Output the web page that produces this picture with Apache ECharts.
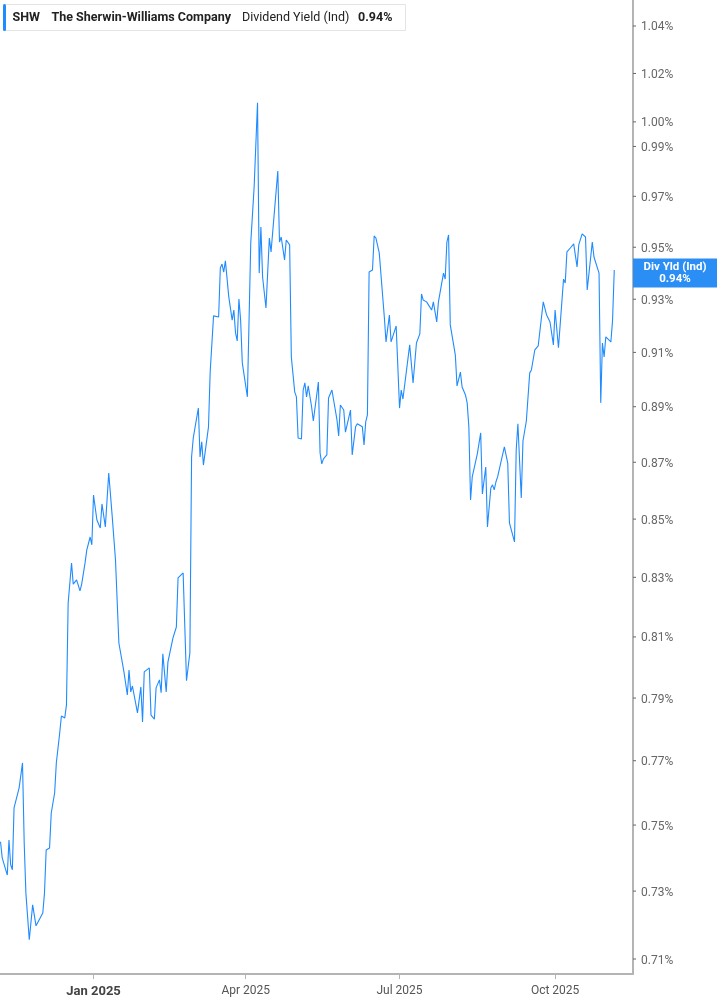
<!DOCTYPE html>
<html><head><meta charset="utf-8">
<script src="https://cdn.jsdelivr.net/npm/echarts@6/dist/echarts.min.js"></script>
<style>html,body{margin:0;padding:0;background:#fff}#c{width:717px;height:1005px}</style>
</head><body><div id="c"></div><script>
const ticker = 'SHW';
const company = 'The Sherwin-Williams Company';
const metric = 'Dividend Yield (Ind)';
const tagName = 'Div Yld (Ind)';

const dates = [
'2024-11-07','2024-11-08','2024-11-11','2024-11-12','2024-11-13','2024-11-14','2024-11-15','2024-11-18','2024-11-20','2024-11-21',
'2024-11-22','2024-11-24','2024-11-26','2024-11-28','2024-12-02','2024-12-03','2024-12-04','2024-12-06','2024-12-07','2024-12-09',
'2024-12-10','2024-12-11','2024-12-12','2024-12-13','2024-12-15','2024-12-16','2024-12-17','2024-12-19','2024-12-20','2024-12-22',
'2024-12-24','2024-12-25','2024-12-27','2024-12-28','2024-12-30','2024-12-31','2025-01-01','2025-01-03','2025-01-05','2025-01-06',
'2025-01-08','2025-01-10','2025-01-12','2025-01-14','2025-01-16','2025-01-17','2025-01-19','2025-01-21','2025-01-22','2025-01-23',
'2025-01-24','2025-01-27','2025-01-28','2025-01-29','2025-01-30','2025-01-31','2025-02-03','2025-02-04','2025-02-06','2025-02-07',
'2025-02-09','2025-02-10','2025-02-11','2025-02-13','2025-02-14','2025-02-17','2025-02-19','2025-02-20','2025-02-23','2025-02-25',
'2025-02-27','2025-02-28','2025-03-01','2025-03-04','2025-03-05','2025-03-06','2025-03-07','2025-03-10','2025-03-11','2025-03-13',
'2025-03-14','2025-03-16','2025-03-17','2025-03-18','2025-03-19','2025-03-20','2025-03-22','2025-03-24','2025-03-25','2025-03-26',
'2025-03-27','2025-03-28','2025-03-29','2025-03-30','2025-04-02','2025-04-04','2025-04-06','2025-04-08','2025-04-09','2025-04-10',
'2025-04-11','2025-04-13','2025-04-15','2025-04-16','2025-04-20','2025-04-21','2025-04-22','2025-04-24','2025-04-25','2025-04-27',
'2025-04-28','2025-04-30','2025-05-01','2025-05-02','2025-05-04','2025-05-05','2025-05-06','2025-05-07','2025-05-08','2025-05-10',
'2025-05-11','2025-05-14','2025-05-15','2025-05-16','2025-05-17','2025-05-19','2025-05-20','2025-05-22','2025-05-25','2025-05-26',
'2025-05-27','2025-05-29','2025-05-30','2025-06-02','2025-06-03','2025-06-05','2025-06-06','2025-06-09','2025-06-10','2025-06-11',
'2025-06-12','2025-06-13','2025-06-15','2025-06-16','2025-06-17','2025-06-19','2025-06-22','2025-06-23','2025-06-25','2025-06-26',
'2025-06-29','2025-07-01','2025-07-02','2025-07-03','2025-07-07','2025-07-08','2025-07-09','2025-07-10','2025-07-11','2025-07-13',
'2025-07-14','2025-07-15','2025-07-17','2025-07-20','2025-07-21','2025-07-23','2025-07-24','2025-07-25','2025-07-27','2025-07-28',
'2025-07-29','2025-07-30','2025-07-31','2025-08-02','2025-08-03','2025-08-04','2025-08-06','2025-08-07','2025-08-09','2025-08-10',
'2025-08-11','2025-08-12','2025-08-13','2025-08-16','2025-08-18','2025-08-19','2025-08-20','2025-08-21','2025-08-22','2025-08-24',
'2025-08-25','2025-08-26','2025-08-27','2025-08-28','2025-09-01','2025-09-03','2025-09-04','2025-09-07','2025-09-08','2025-09-09',
'2025-09-11','2025-09-12','2025-09-14','2025-09-16','2025-09-17','2025-09-19','2025-09-21','2025-09-24','2025-09-26','2025-09-28',
'2025-09-30','2025-10-01','2025-10-03','2025-10-06','2025-10-07','2025-10-08','2025-10-10','2025-10-12','2025-10-14','2025-10-15',
'2025-10-17','2025-10-19','2025-10-20','2025-10-23','2025-10-24','2025-10-27','2025-10-28','2025-10-29','2025-10-30','2025-10-31',
'2025-11-03','2025-11-04','2025-11-05'
];

const yields = [
0.7449,0.7400,0.7348,0.7454,0.7379,0.7364,0.7553,0.7615,0.7693,0.7445,
0.7294,0.7156,0.7259,0.7197,0.7235,0.7294,0.7424,0.7430,0.7537,0.7599,
0.7693,0.7690,0.7788,0.7842,0.7836,0.7878,0.8213,0.8349,0.8277,0.8291,
0.8254,0.8277,0.8349,0.8393,0.8438,0.8411,0.8584,0.8497,0.8469,0.8553,
0.8473,0.8662,0.8514,0.8359,0.8080,0.8077,0.7985,0.7910,0.7991,0.7920,
0.7939,0.7852,0.7852,0.7936,0.7823,0.7985,0.7998,0.7845,0.7832,0.7933,
0.7959,0.7917,0.8044,0.7920,0.8017,0.8097,0.8133,0.8298,0.8315,0.7956,
0.8048,0.8719,0.8787,0.8895,0.8719,0.8773,0.8690,0.8827,0.9027,0.9237,
0.9244,0.9233,0.9420,0.9435,0.9404,0.9447,0.9309,0.9221,0.9259,0.9173,
0.9143,0.9301,0.9221,0.9061,0.8936,0.9517,0.9737,1.0078,0.9400,0.9579,
0.9385,0.9267,0.9536,0.9482,0.9801,0.9520,0.9540,0.9451,0.9528,0.9509,
0.9083,0.8954,0.8936,0.8787,0.8783,0.8961,0.8987,0.8936,0.8976,0.8899,
0.8848,0.8990,0.8733,0.8694,0.8712,0.8726,0.8932,0.8961,0.8852,0.8794,
0.8906,0.8888,0.8808,0.8888,0.8726,0.8827,0.8838,0.8827,0.8762,0.8845,
0.8870,0.9404,0.9412,0.9544,0.9536,0.9478,0.9233,0.9139,0.9240,0.9139,
0.9199,0.8895,0.8961,0.8928,0.9128,0.9131,0.8987,0.8983,0.9135,0.9169,
0.9320,0.9297,0.9290,0.9259,0.9290,0.9214,0.9290,0.9293,0.9400,0.9377,
0.9520,0.9548,0.9203,0.9128,0.9090,0.8976,0.9027,0.8972,0.8943,0.8914,
0.8827,0.8567,0.8648,0.8730,0.8805,0.8588,0.8595,0.8683,0.8473,0.8609,
0.8620,0.8602,0.8630,0.8648,0.8755,0.8697,0.8487,0.8421,0.8744,0.8838,
0.8574,0.8776,0.8848,0.9024,0.9035,0.9109,0.9124,0.9290,0.9240,0.9214,
0.9128,0.9259,0.9117,0.9377,0.9362,0.9482,0.9497,0.9513,0.9424,0.9509,
0.9552,0.9540,0.9335,0.9520,0.9462,0.9400,0.8914,0.9135,0.9083,0.9158,
0.9139,0.9221,0.9412
];

const yTickValues = [0.71,0.73,0.75,0.77,0.79,0.81,0.83,0.85,0.87,0.89,0.91,0.93,0.95,0.97,0.99,1.00,1.02,1.04];
const xTickDates = ['2025-01-01','2025-04-01','2025-07-01','2025-10-01'];
const xRange = ['2024-11-06T16:30','2025-11-16T02:00'];
const monthNames = ['Jan','Feb','Mar','Apr','May','Jun','Jul','Aug','Sep','Oct','Nov','Dec'];

const LINE_BLUE = '#1f8bff';
const TAG_BLUE = '#2a8ef5';
const AXIS_GRAY = '#b4b4b4';
const FONT = 'Roboto, "Noto Sans", sans-serif';

function toMs(s) {
  const m = s.match(/^(\d{4})-(\d{2})-(\d{2})(?:T(\d{2}):(\d{2}))?$/);
  return new Date(+m[1], +m[2] - 1, +m[3], m[4] ? +m[4] : 0, m[5] ? +m[5] : 0).getTime();
}

const lastValue = yields[yields.length - 1];
const seriesData = dates.map((d, i) => [toMs(d), yields[i]]);
const xTickMs = xTickDates.map(toMs);

const chart = echarts.init(document.getElementById('c'), null, {renderer: 'canvas'});

const tickMarks = yTickValues.map(v => ({
  yAxis: v,
  label: {formatter: '{t|}{v|' + v.toFixed(2) + '%}'}
}));

const tagItem = {
  yAxis: lastValue,
  label: {
    position: 'end',
    distance: 0,
    formatter: '{a|' + tagName + '}\n{a|' + lastValue.toFixed(2) + '%}',
    backgroundColor: TAG_BLUE,
    padding: [2, 0, 2, 0],
    rich: {
      a: {width: 84, align: 'center', color: '#fff', fontWeight: 'bold', fontSize: 11.5, lineHeight: 12.5, fontFamily: FONT}
    }
  }
};

const option = {
  backgroundColor: '#fff',
  animation: false,
  textStyle: {fontFamily: FONT},
  grid: {left: 0, right: 84, top: 0, bottom: 31, containLabel: false},
  xAxis: {
    type: 'value',
    min: toMs(xRange[0]),
    max: toMs(xRange[1]),
    axisLine: {show: true, onZero: false, lineStyle: {color: AXIS_GRAY, width: 2}},
    axisTick: {show: true, customValues: xTickMs, length: 5, lineStyle: {color: AXIS_GRAY, width: 1}},
    splitLine: {show: false},
    axisLabel: {
      customValues: xTickMs,
      margin: 11,
      color: '#555',
      fontSize: 12,
      fontFamily: FONT,
      formatter: function (val) {
        const d = new Date(val);
        const s = monthNames[d.getMonth()] + ' ' + d.getFullYear();
        return d.getMonth() === 0 ? '{b|' + s + '}' : s;
      },
      rich: {b: {fontWeight: 'bold', fontSize: 13, color: '#444', fontFamily: FONT}}
    }
  },
  yAxis: {
    type: 'log',
    logBase: 10,
    min: 0.70566,
    max: 1.05112,
    position: 'right',
    axisLine: {show: true, lineStyle: {color: AXIS_GRAY, width: 2}},
    axisTick: {show: false},
    minorTick: {show: false},
    axisLabel: {show: false},
    splitLine: {show: false}
  },
  graphic: [
    {type: 'rect', shape: {x: 3.5, y: 4.5, width: 402, height: 26}, style: {fill: '#fff', stroke: '#e4e4e4', lineWidth: 1}, z: 100},
    {type: 'rect', shape: {x: 3, y: 4, width: 3, height: 27, r: 1.5}, style: {fill: LINE_BLUE}, z: 101},
    {type: 'text', x: 12.5, y: 17.5, style: {text: ticker, fill: '#222', font: 'bold 12.5px ' + FONT, textVerticalAlign: 'middle'}, z: 101},
    {type: 'text', x: 51.5, y: 17.5, style: {text: company, fill: '#222', font: 'bold 12.5px ' + FONT, textVerticalAlign: 'middle'}, z: 101},
    {type: 'text', x: 242, y: 17.5, style: {text: metric, fill: '#222', font: '12.5px ' + FONT, textVerticalAlign: 'middle'}, z: 101},
    {type: 'text', x: 358, y: 17.5, style: {text: lastValue.toFixed(2) + '%', fill: '#222', font: 'bold 12.5px ' + FONT, textVerticalAlign: 'middle'}, z: 101}
  ],
  series: [{
    type: 'line',
    data: seriesData,
    showSymbol: false,
    symbol: 'none',
    clip: false,
    lineStyle: {color: LINE_BLUE, width: 1.1},
    emphasis: {disabled: true},
    markLine: {
      silent: true,
      symbol: ['none', 'none'],
      animation: false,
      lineStyle: {color: 'rgba(255,255,255,0)', width: 1, type: 'solid'},
      label: {
        show: true,
        position: 'end',
        distance: 0,
        rich: {
          t: {width: 3, height: 1, backgroundColor: '#666'},
          v: {color: '#666', fontSize: 12, padding: [3, 0, 0, 5], fontFamily: FONT}
        }
      },
      data: tickMarks.concat([tagItem])
    }
  }]
};
chart.setOption(option);
</script></body></html>
